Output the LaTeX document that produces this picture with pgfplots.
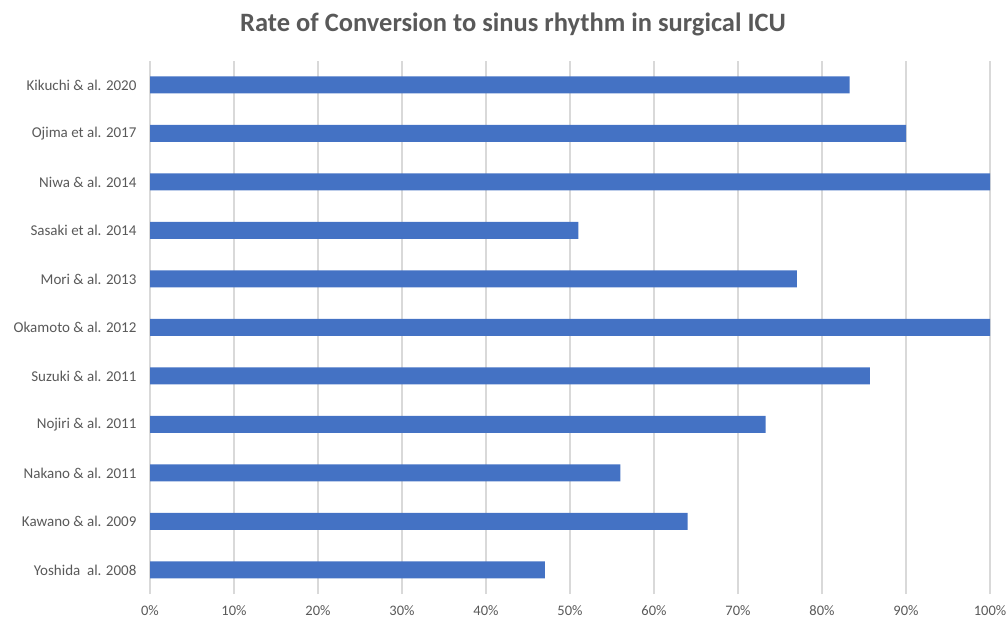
\documentclass[border=0pt]{standalone}
\usepackage{pgfplots}
\pgfplotsset{compat=1.18}
\usepackage{fontspec}
\setmainfont{Carlito}
\definecolor{barc}{HTML}{4472C4}
\definecolor{txt}{HTML}{595959}
\definecolor{grd}{HTML}{D9D9D9}
\begin{document}
\begin{tikzpicture}[x=1pt,y=1pt]
\path[use as bounding box] (0,0) rectangle (1007,621);
\begin{axis}[
  at={(150pt,26.75pt)}, anchor=south west,
  scale only axis, width=840pt, height=533.5pt,
  xbar, bar width=17pt,
  xmin=0, xmax=100, ymin=-0.5, ymax=10.5,
  ytick={0,...,10},
  yticklabels={Yoshida\ \ al. 2008, Kawano \& al. 2009, Nakano \& al. 2011, Nojiri \& al. 2011, Suzuki \& al. 2011, Okamoto \& al. 2012, Mori \& al. 2013, Sasaki et al. 2014, Niwa \& al. 2014, Ojima et al. 2017, Kikuchi \& al. 2020},
  xtick={0,10,...,100},
  xticklabel={\pgfmathprintnumber{\tick}\%},
  /pgf/number format/assume math mode=true,
  xmajorgrids, major grid style={grd, line width=1.3pt},
  axis line style={draw=none},
  major tick length=0pt,
  tick label style={font=\fontsize{15}{17}\selectfont, text=txt},
  yticklabel style={xshift=-10pt},
  xticklabel style={font=\fontsize{14.5}{16}\selectfont, yshift=-8pt},
  clip=false,
]
\addplot[fill=barc, draw=none] coordinates {
(47,0) (64,1) (56,2) (73.3,3) (85.7,4) (100,5) (77,6) (51,7) (100,8) (90,9) (83.3,10)
};
\end{axis}
\node[anchor=base, font=\bfseries\fontsize{26.5}{30}\selectfont, text=txt] at (513,589.5) {Rate of Conversion to sinus rhythm in surgical ICU};
\end{tikzpicture}
\end{document}
